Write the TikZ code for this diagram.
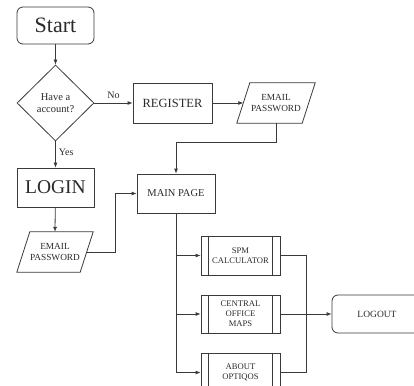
\documentclass[tikz,border=0pt]{standalone}
\usepackage{fontspec}
\setmainfont{Liberation Serif}
\usetikzlibrary{shapes.geometric,arrows.meta,calc}
\definecolor{ln}{HTML}{3A3A3A}
\definecolor{tx}{HTML}{2A2A2A}
\begin{document}
\begin{tikzpicture}[x=1pt,y=-1pt,
  every node/.style={text=tx,align=center,inner sep=1pt},
  box/.style={draw=ln,line width=0.8pt,rectangle,minimum width=#1},
  box/.default=78pt,
  rbox/.style={draw=ln,line width=0.8pt,rectangle,rounded corners=6pt},
  io/.style={rectangle,draw=none,minimum height=40pt},
  proc/.style={draw=ln,line width=0.8pt,rectangle,minimum width=79pt,minimum height=39pt,font=\fontsize{8.6}{10}\selectfont},
  conn/.style={draw=ln,line width=0.8pt},
  arr/.style={conn,-{Latex[length=5pt,width=4pt]}},
  lbl/.style={font=\fontsize{10}{12}\selectfont}]
\useasboundingbox (0,0) rectangle (414,385);
\clip (0,0) rectangle (414,385);

% nodes
\node[rbox,minimum width=77pt,minimum height=37pt,font=\fontsize{22}{24}\selectfont] (start) at (55.5,25.5) {Start};
\node[diamond,draw=ln,line width=0.8pt,minimum width=77pt,minimum height=76pt,inner sep=0pt,font=\fontsize{10.5}{12.5}\selectfont] (dec) at (55.5,103) {Have a\\account?};
\node[box=79pt,minimum height=40pt,font=\fontsize{12.5}{14}\selectfont] (reg) at (172.5,103) {REGISTER};
\node[io,minimum width=65pt,font=\fontsize{9.3}{11}\selectfont] (em1) at (276,103) {EMAIL\\PASSWORD};
\node[box=77pt,minimum height=39pt,font=\fontsize{19.5}{22}\selectfont] (login) at (55.5,187.5) {LOGIN};
\node[io,minimum width=63pt,font=\fontsize{9.3}{11}\selectfont] (em2) at (55,252) {EMAIL\\PASSWORD};
\node[box=78pt,minimum height=39pt,font=\fontsize{10.5}{12}\selectfont] (main) at (176,193.5) {MAIN PAGE};
\node[proc] (spm) at (240.5,255.5) {SPM\\CALCULATOR};
\node[proc,minimum height=38pt] (cen) at (240.5,314) {CENTRAL\\OFFICE\\MAPS};
\node[proc] (about) at (240.5,372.5) {ABOUT\\OPTIQOS};
\node[rbox,minimum width=90pt,minimum height=38pt,font=\fontsize{9.5}{11}\selectfont] (logout) at (377,314) {LOGOUT};

% parallelogram outlines
\foreach \n in {em1,em2}{
  \draw[conn] ($(\n.south west)+(-6.5,0)$) -- ($(\n.north west)+(6.5,0)$) -- ($(\n.north east)+(6.5,0)$) -- ($(\n.south east)+(-6.5,0)$) -- cycle;
}
% process side bars
\foreach \n in {spm,cen,about}{
  \draw[conn] ($(\n.north west)+(8,0)$) -- ($(\n.south west)+(8,0)$);
  \draw[conn] ($(\n.north east)+(-8,0)$) -- ($(\n.south east)+(-8,0)$);
}

% connectors
\draw[arr] (start) -- (dec);
\draw[arr] (dec) -- node[lbl,above,pos=0.5,yshift=3pt] {No} (reg);
\draw[arr] (dec) -- node[lbl,right,pos=0.4,xshift=2pt] {Yes} (login);
\draw[arr] (reg) -- (em1);
\coordinate (a1) at (276,142);
\draw[arr] (em1.south) -- (a1) -| (main.north);
\draw[arr] (login) -- ($(em2.north)+(0,0)$);
\coordinate (a2) at (115,252);
\draw[arr] (em2.east) -- (a2) |- (main.west);
\draw[arr] (main.south) |- (spm.west);
\draw[arr] (main.south) |- (cen.west);
\draw[arr] (main.south) |- (about.west);
\coordinate (j) at (306,314);
\draw[conn] (spm.east) -| (j);
\draw[conn] (about.east) -| (j);
\draw[arr] (cen.east) -- (logout.west);
\end{tikzpicture}
\end{document}
